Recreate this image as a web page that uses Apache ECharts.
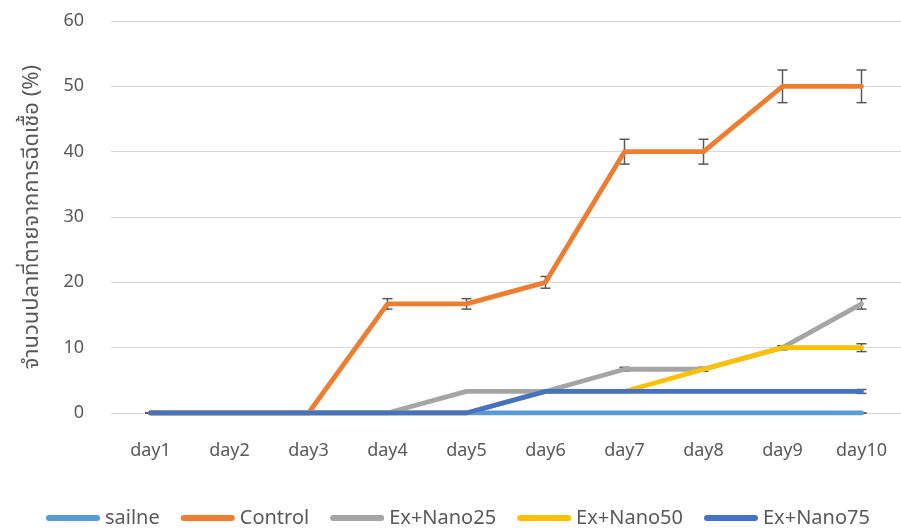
<!DOCTYPE html>
<html>
<head>
<meta charset="utf-8">
<script src="https://cdn.jsdelivr.net/npm/echarts@6/dist/echarts.min.js"></script>
<style>
  html, body { margin: 0; padding: 0; background: #fff; }
  #chart { width: 901px; height: 531px; }
</style>
</head>
<body>
<div id="chart"></div>
<script>
// Days of observation
const days = ['day1', 'day2', 'day3', 'day4', 'day5', 'day6', 'day7', 'day8', 'day9', 'day10'];

// Cumulative mortality (%) per group
const sailne   = [0, 0, 0, 0, 0, 0, 0, 0, 0, 0];
const control  = [0, 0, 0, 16.7, 16.7, 20, 40, 40, 50, 50];
const nano25   = [0, 0, 0, 0, 3.3, 3.3, 6.7, 6.7, 10, 16.7];
const nano50   = [0, 0, 0, 0, 0, 3.3, 3.3, 6.7, 10, 10];
const nano75   = [0, 0, 0, 0, 0, 3.3, 3.3, 3.3, 3.3, 3.3];

// Error (±) per point
const sailneErr  = [0, 0, 0, 0, 0, 0, 0, 0, 0, 0];
const controlErr = [0, 0, 0, 0.8, 0.8, 0.9, 1.9, 1.9, 2.5, 2.5];
const nano25Err  = [0, 0, 0, 0, 0, 0, 0.3, 0.3, 0.3, 0.8];
const nano50Err  = [0, 0, 0, 0, 0, 0, 0, 0, 0.3, 0.6];
const nano75Err  = [0, 0, 0, 0, 0, 0, 0, 0, 0, 0.3];

const seriesNames = ['sailne', 'Control', 'Ex+Nano25', 'Ex+Nano50', 'Ex+Nano75'];
const seriesValues = [sailne, control, nano25, nano50, nano75];
const seriesErrors = [sailneErr, controlErr, nano25Err, nano50Err, nano75Err];
const colors = ['#5B9BD5', '#ED7D31', '#A5A5A5', '#FFC000', '#4472C4'];

const FONT = '"Noto Sans", "Noto Sans Thai", sans-serif';
const TEXT = '#595959';

function errorBarSeries(vals, errs) {
  return {
    type: 'custom',
    silent: true,
    data: vals.map((v, i) => [i, v, errs[i]]),
    encode: { x: 0, y: 1 },
    renderItem: function (params, api) {
      const i = api.value(0), v = api.value(1), e = api.value(2);
      const hi = api.coord([i, v + e]);
      const lo = api.coord([i, v - e]);
      const half = 5;
      const style = { stroke: '#595959', lineWidth: 1.5, fill: null };
      return {
        type: 'group',
        children: [
          { type: 'line', shape: { x1: hi[0], y1: hi[1], x2: lo[0], y2: lo[1] }, style: style },
          { type: 'line', shape: { x1: hi[0] - half, y1: hi[1], x2: hi[0] + half, y2: hi[1] }, style: style },
          { type: 'line', shape: { x1: lo[0] - half, y1: lo[1], x2: lo[0] + half, y2: lo[1] }, style: style }
        ]
      };
    }
  };
}

const series = [];
seriesNames.forEach((name, k) => {
  series.push({
    name: name,
    type: 'line',
    data: seriesValues[k],
    symbol: 'none',
    color: colors[k],
    lineStyle: { width: 4.8, color: colors[k], cap: 'round', join: 'round' }
  });
  series.push(errorBarSeries(seriesValues[k], seriesErrors[k]));
});

const chart = echarts.init(document.getElementById('chart'), null, { renderer: 'canvas' });
chart.setOption({
  animation: false,
  backgroundColor: '#fff',
  grid: { left: 111, right: -7, top: 21, bottom: 118, containLabel: false },
  legend: {
    data: seriesNames,
    left: 41,
    top: 503,
    itemWidth: 54,
    itemHeight: 6,
    itemGap: 21,
    icon: 'path://M3,0 H51 A3,3 0 0 1 51,6 H3 A3,3 0 0 1 3,0 Z',
    textStyle: { fontFamily: FONT, fontSize: 20, color: TEXT }
  },
  xAxis: {
    type: 'category',
    data: days,
    boundaryGap: true,
    axisLine: { show: false },
    axisTick: { show: false },
    axisLabel: { fontFamily: FONT, fontSize: 18, color: TEXT, margin: 29 }
  },
  yAxis: {
    type: 'value',
    min: 0,
    max: 60,
    interval: 10,
    name: 'จำนวนปลาที่ตายจากการฉีดเชื้อ (%)',
    nameLocation: 'middle',
    nameGap: 68,
    nameTextStyle: { fontFamily: FONT, fontSize: 22, color: TEXT },
    axisLine: { show: false },
    axisTick: { show: false },
    axisLabel: { fontFamily: FONT, fontSize: 18, color: TEXT, margin: 27 },
    splitLine: { lineStyle: { color: '#D9D9D9', width: 1.2 } }
  },
  series: series
});
</script>
</body>
</html>
